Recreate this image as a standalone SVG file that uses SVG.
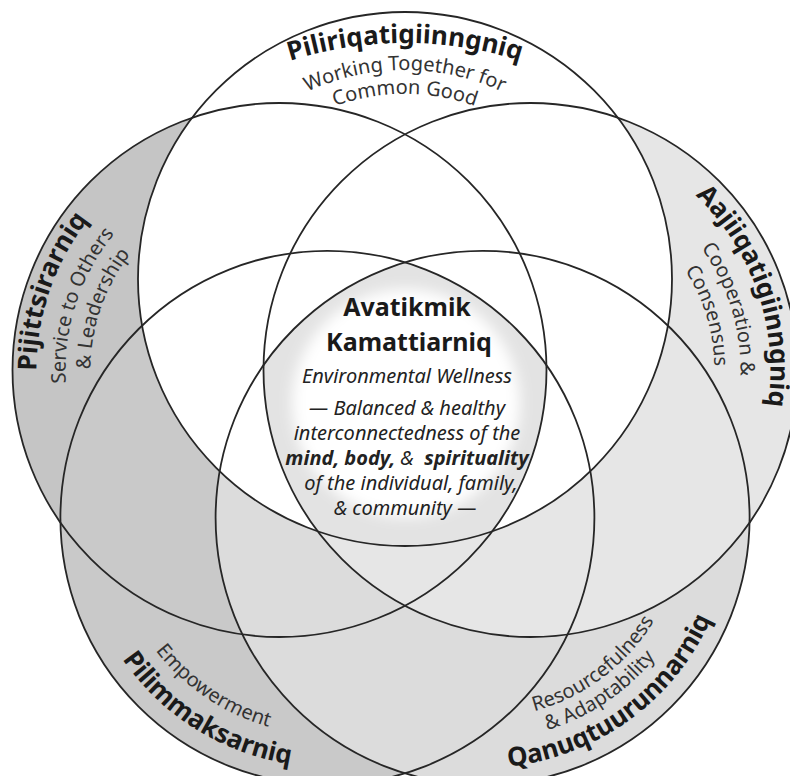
<svg xmlns="http://www.w3.org/2000/svg" width="790" height="776" viewBox="0 0 790 776">
<style>
.o{fill:none;stroke:#262626;stroke-width:1.8}
.t{font-family:"Noto Sans","Open Sans",sans-serif;fill:#1a1a1a}
.b{font-weight:bold;font-size:26px}
.s{font-size:20px;fill:#333}
.i{font-style:italic;font-size:20px;fill:#222}
.cb{font-weight:bold;font-size:25px}
</style>
<defs>
<clipPath id="kT"><circle cx="405" cy="279" r="267"/></clipPath>
<clipPath id="kL"><circle cx="279.5" cy="370" r="267"/></clipPath>
<clipPath id="kR"><circle cx="530.5" cy="370" r="267"/></clipPath>
<clipPath id="kBL"><circle cx="327.4" cy="517.8" r="267"/></clipPath>
<clipPath id="kBR"><circle cx="482.6" cy="517.8" r="267"/></clipPath>
<filter id="soft" x="-30%" y="-30%" width="160%" height="160%"><feGaussianBlur stdDeviation="7"/></filter>
<path id="pTop" d="M160.7,131.9 A380,380 0 0 1 649.3,131.9"/>
<path id="pWork" d="M242.4,137.4 A230,230 0 0 1 567.6,137.4"/>
<path id="pComm" d="M258.6,154.6 A207,207 0 0 1 551.4,154.6"/>
<path id="pLeft" d="M71.2,495.1 A243,243 0 0 1 192.4,143.1"/>
<path id="pServ" d="M98,483.4 A214,214 0 0 1 199.3,171.6"/>
<path id="pLead" d="M117.5,467.3 A189,189 0 0 1 211.8,193.5"/>
<path id="pRight" d="M616.5,145.9 A240,240 0 0 1 736.2,493.6"/>
<path id="pCoop" d="M612.5,176.7 A210,210 0 0 1 706.6,484.4"/>
<path id="pCons" d="M602.4,200.6 A184,184 0 0 1 684.8,470.2"/>
<path id="pBL" d="M80.8,552.5 A249,249 0 0 0 404.3,754.6"/>
<path id="pEmp" d="M111.6,540.5 A217,217 0 0 0 387.2,726.4"/>
<path id="pBR" d="M422.1,760.4 A250,250 0 0 0 732,535.2"/>
<path id="pRes" d="M437.6,712.7 A200,200 0 0 0 682.3,528.3"/>
<path id="pAda" d="M421.4,731.2 A222,222 0 0 0 703.4,541"/>
</defs>
<rect width="790" height="776" fill="#fff"/>
<g id="fills">
<circle cx="279.5" cy="370" r="267" fill="#c5c5c5"/>
<circle cx="327.4" cy="517.8" r="267" fill="#c9c9c9"/>
<circle cx="482.6" cy="517.8" r="267" fill="#dcdcdc"/>
<circle cx="530.5" cy="370" r="267" fill="#e6e6e6"/>
<circle cx="405" cy="279" r="267" fill="#fff"/>
</g>
<g id="center-region" clip-path="url(#kT)"><g clip-path="url(#kL)"><g clip-path="url(#kR)"><g clip-path="url(#kBL)"><g clip-path="url(#kBR)">
<rect x="200" y="200" width="420" height="400" fill="#e3e3e3"/>
<circle cx="406" cy="403" r="114" fill="#fff" filter="url(#soft)"/>
</g></g></g></g></g>
<g id="outlines" class="o">
<circle cx="279.5" cy="370" r="267"/>
<circle cx="530.5" cy="370" r="267"/>
<circle cx="327.4" cy="517.8" r="267"/>
<circle cx="482.6" cy="517.8" r="267"/>
<circle cx="405" cy="279" r="267"/>
</g>
<g id="node-piliriqatigiinngniq">
<text class="t b" text-anchor="middle"><textPath href="#pTop" startOffset="50%">Piliriqatigiinngniq</textPath></text>
<text class="t s" text-anchor="middle"><textPath href="#pWork" startOffset="50%">Working Together for</textPath></text>
<text class="t s" text-anchor="middle"><textPath href="#pComm" startOffset="50%">Common Good</textPath></text>
</g>
<g id="node-pijittsirarniq">
<text class="t b" text-anchor="middle"><textPath href="#pLeft" startOffset="50%">Pijittsirarniq</textPath></text>
<text class="t s" text-anchor="middle"><textPath href="#pServ" startOffset="50%">Service to Others</textPath></text>
<text class="t s" text-anchor="middle"><textPath href="#pLead" startOffset="50%">&amp; Leadership</textPath></text>
</g>
<g id="node-aajiiqatigiinngniq">
<text class="t b" text-anchor="middle"><textPath href="#pRight" startOffset="50%">Aajiiqatigiinngniq</textPath></text>
<text class="t s" text-anchor="middle"><textPath href="#pCoop" startOffset="50%">Cooperation &amp;</textPath></text>
<text class="t s" text-anchor="middle"><textPath href="#pCons" startOffset="50%">Consensus</textPath></text>
</g>
<g id="node-pilimmaksarniq">
<text class="t b" text-anchor="middle"><textPath href="#pBL" startOffset="50%">Pilimmaksarniq</textPath></text>
<text class="t s" text-anchor="middle"><textPath href="#pEmp" startOffset="50%">Empowerment</textPath></text>
</g>
<g id="node-qanuqtuurunnarniq">
<text class="t b" text-anchor="middle" font-size="25"><textPath href="#pBR" startOffset="50%">Qanuqtuurunnarniq</textPath></text>
<text class="t s" text-anchor="middle"><textPath href="#pRes" startOffset="50%">Resourcefulness</textPath></text>
<text class="t s" text-anchor="middle"><textPath href="#pAda" startOffset="50%">&amp; Adaptability</textPath></text>
</g>
<g id="node-avatikmik-kamattiarniq" text-anchor="middle">
<text class="t cb" x="407" y="316">Avatikmik</text>
<text class="t cb" x="409" y="351">Kamattiarniq</text>
<text class="t i" x="407" y="383" font-size="20.5">Environmental Wellness</text>
<text class="t i" x="407" y="415">— Balanced &amp; healthy</text>
<text class="t i" x="407" y="440">interconnectedness of the</text>
<text class="t i" x="407" y="465"><tspan font-weight="bold">mind, body,</tspan> &amp;&#160; <tspan font-weight="bold">spirituality</tspan></text>
<text class="t i" x="411" y="490">of the individual, family,</text>
<text class="t i" x="405" y="515">&amp; community —</text>
</g>
</svg>
